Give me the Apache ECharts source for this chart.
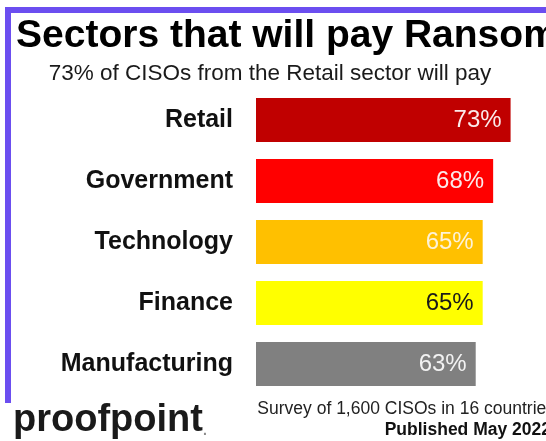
<!DOCTYPE html>
<html>
<head>
<meta charset="utf-8">
<script src="https://cdn.jsdelivr.net/npm/echarts@6/dist/echarts.min.js"></script>
<style>
  html, body { margin: 0; padding: 0; background: #fff; }
  #main { width: 546px; height: 441px; }
</style>
</head>
<body>
<div id="main"></div>
<script>
// sectors and share of CISOs that would pay
var sectors = ['Retail', 'Government', 'Technology', 'Finance', 'Manufacturing'];
var payShare = [73, 68, 65, 65, 63];
var barColors = ['#c00000', '#ff0000', '#ffc000', '#ffff00', '#808080'];
var labelColors = ['#fbeaea', '#fbeaea', '#fdf2d8', '#1a1a1a', '#f2f2f2'];

var myChart = echarts.init(document.getElementById('main'));

var barData = payShare.map(function (v, i) {
	return {
		value: v,
		itemStyle: { color: barColors[i] },
		label: { color: labelColors[i] }
	};
});

var option = {
	backgroundColor: '#ffffff',
	animation: false,
	grid: {
		left: 256,
		right: 11,
		top: 89.5,
		bottom: 46.5,
		containLabel: false
	},
	xAxis: {
		type: 'value',
		min: 0,
		max: 80,
		show: false
	},
	yAxis: {
		type: 'category',
		data: sectors,
		inverse: true,
		axisLine: { show: false },
		axisTick: { show: false },
		axisLabel: {
			margin: 23,
			color: '#111111',
			fontFamily: 'Liberation Sans',
			fontWeight: 'bold',
			fontSize: 25
		}
	},
	series: [
		{
			name: 'Will pay',
			type: 'bar',
			barWidth: 44,
			data: barData,
			label: {
				show: true,
				position: 'insideRight',
				distance: 9,
				formatter: '{c}%',
				fontFamily: 'Liberation Sans',
				fontSize: 24
			}
		}
	],
	graphic: [
		// purple frame, top and left
		{ type: 'rect', shape: { x: 5, y: 7, width: 541, height: 6 }, style: { fill: '#6b4ef0' } },
		{ type: 'rect', shape: { x: 5, y: 7, width: 6, height: 396 }, style: { fill: '#6b4ef0' } },
		{
			type: 'text', left: 16, top: 17,
			style: {
				text: 'Sectors that will pay Ransom',
				font: 'bold 39px "Liberation Sans"',
				fill: '#000000'
			}
		},
		{
			type: 'text', x: 270, y: 62,
			style: {
				text: '73% of CISOs from the Retail sector will pay',
				font: '22.5px "Liberation Sans"',
				fill: '#1a1a1a',
				align: 'center'
			}
		},
		{
			type: 'text', x: 13, y: 402,
			style: {
				text: '{a|proofpoint}{b|.}',
				rich: {
					a: { font: 'bold 38px "Liberation Sans"', fill: '#1a1a1a' },
					b: { font: 'bold 14px "Liberation Sans"', fill: '#8a8a8a', padding: [20, 0, 0, 0] }
				}
			}
		},
		{
			type: 'text', x: 555, y: 400,
			style: {
				text: 'Survey of 1,600 CISOs in 16 countries',
				font: '17.5px "Liberation Sans"',
				fill: '#222222',
				align: 'right'
			}
		},
		{
			type: 'text', x: 551, y: 421,
			style: {
				text: 'Published May 2022',
				font: 'bold 17.5px "Liberation Sans"',
				fill: '#111111',
				align: 'right'
			}
		}
	]
};
myChart.setOption(option, true);
</script>
</body>
</html>
